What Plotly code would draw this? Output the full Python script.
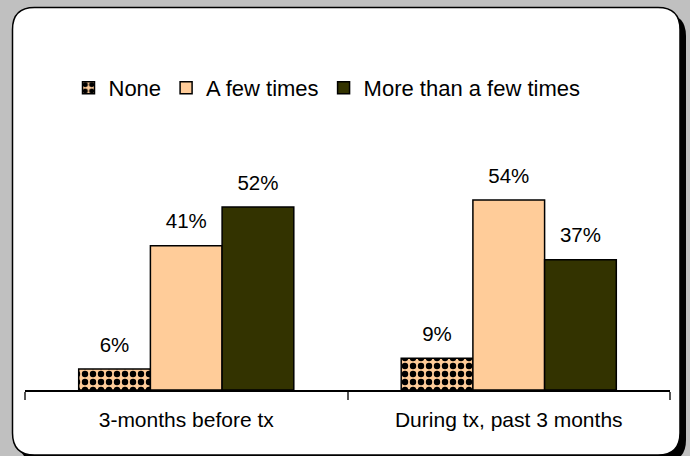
import plotly.graph_objects as go

categories = ["3-months before tx", "During tx, past 3 months"]
series_names = ["None", "A few times", "More than a few times"]
none_vals = [6, 9]
few_vals = [41, 54]
more_vals = [52, 37]

W, H = 690, 456
L, R, T, B = 25, 20, 130, 66
PW, PH = W - L - R, H - T - B
PX_PER_UNIT = 3.52


def px_x(px):
    return (px - L) / PW


def px_y(py):
    return (H - B - py) / PH


def rrect(x0, y0, x1, y1, r):
    rx, ry = r / PW, r / PH
    X0, X1 = px_x(x0), px_x(x1)
    Y0, Y1 = px_y(y0), px_y(y1)
    return (f"M{X0+rx},{Y0} L{X1-rx},{Y0} Q{X1},{Y0} {X1},{Y0-ry} "
            f"L{X1},{Y1+ry} Q{X1},{Y1} {X1-rx},{Y1} L{X0+rx},{Y1} "
            f"Q{X0},{Y1} {X0},{Y1+ry} L{X0},{Y0-ry} Q{X0},{Y0} {X0+rx},{Y0} Z")


fig = go.Figure()
peach = "#FFCC99"
dark = "#333300"
styles = [
    dict(color=peach, pattern=dict(shape=".", fgcolor="black", bgcolor=peach, size=8, solidity=0.5, fillmode="replace")),
    dict(color=peach),
    dict(color=dark),
]
vals = [none_vals, few_vals, more_vals]
for name, v, st in zip(series_names, vals, styles):
    m = dict(st)
    m["line"] = dict(color="black", width=1.5)
    fig.add_trace(go.Bar(x=categories, y=v, name=name, marker=m, offsetgroup=name))

for name, v in zip(series_names, vals):
    fig.add_trace(go.Scatter(
        x=categories, y=v, mode="markers+text", text=[f"{x}%" for x in v],
        textposition="top center", marker=dict(size=18, opacity=0),
        textfont=dict(size=20.5, color="black", family="Liberation Sans, Arial"),
        showlegend=False, hoverinfo="skip", offsetgroup=name))

ymax = PH / PX_PER_UNIT
fig.update_layout(
    width=W, height=H,
    margin=dict(l=L, r=R, t=T, b=B),
    paper_bgcolor="#C0C0C0",
    plot_bgcolor="rgba(0,0,0,0)",
    barmode="group", bargap=0.333, bargroupgap=0,
    scattermode="group", scattergap=0.333,
    font=dict(family="Liberation Sans, Arial", size=21, color="black"),
    showlegend=True,
    legend=dict(orientation="h", x=px_x(327), xanchor="center", y=px_y(88), yanchor="middle",
                font=dict(size=22), bgcolor="rgba(0,0,0,0)", itemwidth=30,
                traceorder="normal"),
    xaxis=dict(showline=True, linecolor="black", linewidth=1.5, ticks="outside",
               tickson="boundaries", ticklen=8, tickcolor="#555555", tickwidth=1.5,
               tickfont=dict(size=21), ticklabelstandoff=10, showgrid=False),
    yaxis=dict(range=[0, ymax], visible=False, showgrid=False),
    shapes=[
        dict(type="path", xref="paper", yref="paper", layer="below",
             path=rrect(19, 14, 686, 462, 22), fillcolor="black", line=dict(width=0)),
        dict(type="path", xref="paper", yref="paper", layer="below",
             path=rrect(12.5, 7.5, 680, 455, 22), fillcolor="white",
             line=dict(color="black", width=1.5)),
    ],
)

fig.write_html("out.html", config={"displayModeBar": False},
               post_script="document.body.style.margin='0';")
